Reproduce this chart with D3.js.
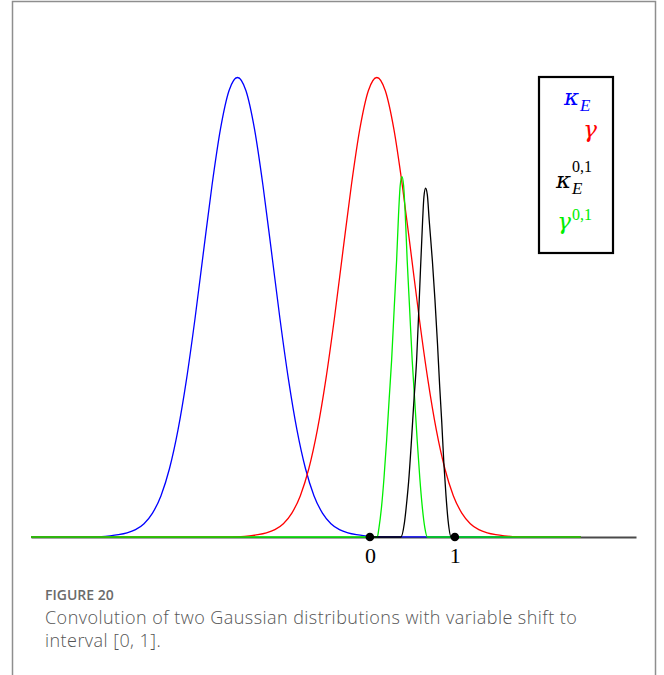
<!DOCTYPE html>
<html>
<head>
<meta charset="utf-8">
<script src="https://cdn.jsdelivr.net/npm/d3@7"></script>
<style>
    body { margin: 0; background: #fff; }
    svg { display: block; }
</style>
</head>
<body>
<svg id="svg-figure"></svg>
<script>
// kappa_E (blue)
const blueX = [-4, -3.37, -3.17, -3.07, -2.97, -2.87, -2.77, -2.67, -2.57, -2.47, -2.37, -2.27, -2.17, -2.07, -1.97, -1.87, -1.77, -1.67, -1.57,
    -1.47, -1.37, -1.27, -1.17, -1.07, -0.97, -0.87, -0.77, -0.67, -0.57, -0.47, -0.37, -0.27, -0.17, -0.07, 0.03, 0.23, 2.47];
const blueY = [0, 0.0003, 0.001, 0.0025, 0.005, 0.009, 0.016, 0.029, 0.052, 0.09, 0.149, 0.233, 0.343, 0.475, 0.621, 0.765, 0.888, 0.971, 1,
    0.971, 0.888, 0.765, 0.621, 0.475, 0.343, 0.233, 0.149, 0.09, 0.052, 0.029, 0.016, 0.009, 0.005, 0.0025, 0.001, 0.0003, 0];

// gamma (red)
const redX = [-4, -1.73, -1.53, -1.43, -1.33, -1.23, -1.13, -1.03, -0.93, -0.83, -0.73, -0.63, -0.53, -0.43, -0.33, -0.23, -0.13, -0.03, 0.07,
    0.17, 0.27, 0.37, 0.47, 0.57, 0.67, 0.77, 0.87, 0.97, 1.07, 1.17, 1.27, 1.37, 1.47, 1.57, 1.67, 1.87, 2.47];
const redY = [0, 0.0003, 0.001, 0.0025, 0.005, 0.009, 0.016, 0.029, 0.052, 0.09, 0.149, 0.233, 0.343, 0.475, 0.621, 0.765, 0.888, 0.971, 1,
    0.971, 0.888, 0.765, 0.621, 0.475, 0.343, 0.233, 0.149, 0.09, 0.052, 0.029, 0.016, 0.009, 0.005, 0.0025, 0.001, 0.0003, 0];

// gamma^{0,1} (green)
const greenX = [-4, 0.05, 0.075, 0.095, 0.125, 0.155, 0.185, 0.215, 0.244, 0.275, 0.303, 0.325, 0.345, 0.365,
    0.385, 0.405, 0.427, 0.455, 0.486, 0.515, 0.545, 0.575, 0.605, 0.635, 0.665, 0.69, 2.47];
const greenY = [0, 0, 0, 0.02, 0.065, 0.13, 0.21, 0.3, 0.385, 0.5, 0.603, 0.7, 0.765, 0.784,
    0.765, 0.7, 0.603, 0.5, 0.385, 0.3, 0.21, 0.13, 0.065, 0.02, 0, 0, 0];

// kappa_E^{0,1} (black), only on [0, 1]
const blackX = [0, 0.33, 0.354, 0.394, 0.424, 0.444, 0.474, 0.507, 0.538, 0.569, 0.609, 0.624, 0.644,
    0.664, 0.686, 0.724, 0.754, 0.784, 0.809, 0.834, 0.859, 0.884, 0.909, 0.944, 0.97, 1];
const blackY = [0, 0, 0, 0.03, 0.08, 0.12, 0.2, 0.298, 0.385, 0.516, 0.69, 0.74, 0.759,
    0.745, 0.69, 0.6, 0.516, 0.42, 0.33, 0.25, 0.16, 0.09, 0.035, 0, 0, 0];

const xTicks = [0, 1];
const captionTitle = 'FIGURE 20';
const captionLines = ['Convolution of two Gaussian distributions with variable shift to', 'interval [0, 1].'];

(function() {

    const w = 664;
    const h = 675;

    const zip = (xs, ys) => xs.map((x, i) => ({ x, y: ys[i] }));

    const series = [
        { color: '#0000ff', data: zip(blueX, blueY) },
        { color: '#ff0000', data: zip(redX, redY) },
        { color: '#00ee00', data: zip(greenX, greenY) },
        { color: '#000000', data: zip(blackX, blackY) },
    ];

    // Scales
    const scaleX = d3.scaleLinear().domain([-4, 3.12]).range([31, 636]);
    const scaleY = d3.scaleLinear().domain([0, 1]).range([537, 77.5]);

    const svg = d3.select('#svg-figure')
        .attr('width', w)
        .attr('height', h);

    // Frame
    svg.append('path')
        .attr('d', `M12.5,${h} V1.5 H655.5 V${h}`)
        .attr('fill', 'none')
        .attr('stroke', '#8e8e8e')
        .attr('stroke-width', 1.5);

    // X Axis
    const xAxis = d3.axisBottom(scaleX)
        .tickValues(xTicks)
        .tickSize(0)
        .tickSizeOuter(0)
        .tickPadding(10)
        .tickFormat(d3.format('d'));

    const axisG = svg.append('g')
        .attr('transform', `translate(-1, ${scaleY(0)})`)
        .call(xAxis);

    axisG.select('.domain')
        .attr('transform', 'translate(1, 0)')
        .attr('stroke', '#4a4a4a')
        .attr('stroke-width', 2);

    axisG.selectAll('text')
        .attr('fill', '#000')
        .style('font-family', '"Liberation Serif", "DejaVu Serif", serif')
        .style('font-size', '22px');

    // Curves
    const line = d3.line()
        .x(d => scaleX(d.x))
        .y(d => scaleY(d.y))
        .curve(d3.curveMonotoneX);

    svg.selectAll('path.curve')
        .data(series)
        .enter()
        .append('path')
        .attr('class', 'curve')
        .attr('d', d => line(d.data))
        .attr('fill', 'none')
        .attr('stroke', d => d.color)
        .attr('stroke-width', 1.3);

    // Interval end points
    svg.selectAll('circle.end')
        .data(xTicks)
        .enter()
        .append('circle')
        .attr('class', 'end')
        .attr('cx', d => scaleX(d) - 1)
        .attr('cy', scaleY(0))
        .attr('r', 4.3)
        .attr('fill', '#000');

    // Legend
    const legend = svg.append('g').attr('id', 'legend');

    legend.append('rect')
        .attr('x', 539)
        .attr('y', 77)
        .attr('width', 74)
        .attr('height', 176)
        .attr('fill', '#fff')
        .attr('stroke', '#000')
        .attr('stroke-width', 2.2);

    const greek = '"DejaVu Serif", serif';
    const roman = '"Liberation Serif", "DejaVu Serif", serif';

    const sym = (x, y, txt, color, size, anchor, italic, family) => legend.append('text')
        .attr('x', x)
        .attr('y', y)
        .attr('fill', color)
        .attr('text-anchor', anchor)
        .style('font-family', family)
        .style('font-size', `${size}px`)
        .style('font-style', italic ? 'italic' : 'normal')
        .text(txt);

    sym(579, 105, '\u03BA', '#0000ff', 23, 'end', true, greek);
    sym(580, 111, 'E', '#0000ff', 17, 'start', true, roman);

    sym(597, 137, '\u03B3', '#ff0000', 23, 'end', true, greek);

    sym(571, 188, '\u03BA', '#000', 23, 'end', true, greek);
    sym(572, 172, '0,1', '#000', 16, 'start', false, roman);
    sym(572, 194, 'E', '#000', 17, 'start', true, roman);

    sym(571, 229, '\u03B3', '#00ee00', 23, 'end', true, greek);
    sym(572, 220, '0,1', '#00ee00', 16, 'start', false, roman);

    // Caption
    const caption = svg.append('g')
        .style('font-family', '"Open Sans", "Noto Sans", sans-serif');

    caption.append('text')
        .attr('x', 45)
        .attr('y', 600)
        .attr('fill', '#6b6b6b')
        .style('font-size', '14px')
        .style('font-weight', 600)
        .text(captionTitle);

    caption.selectAll('text.line')
        .data(captionLines)
        .enter()
        .append('text')
        .attr('class', 'line')
        .attr('x', 45)
        .attr('y', (d, i) => 624 + i * 23)
        .attr('fill', '#555')
        .style('font-size', '18px')
        .style('letter-spacing', '0.45px')
        .style('font-weight', 300)
        .text(d => d);

})();
</script>
</body>
</html>
